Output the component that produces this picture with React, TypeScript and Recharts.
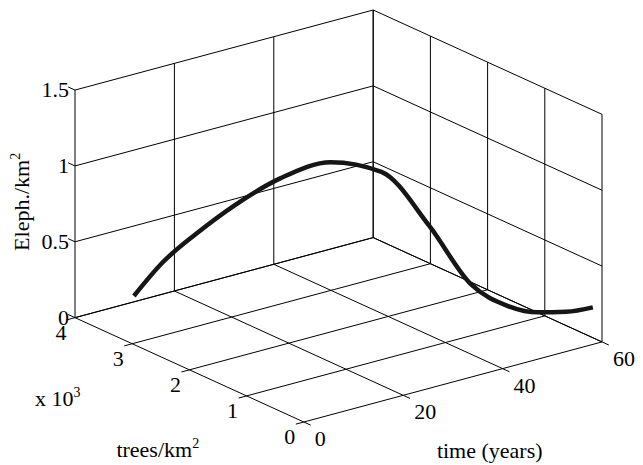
import React from "react";
import {
  ComposedChart,
  Line,
  ReferenceDot,
  ReferenceLine,
  XAxis,
  YAxis,
} from "recharts";

// simulated trajectory
const years = [0, 5, 10, 15, 20, 25, 30, 35, 40, 45, 50, 55, 60];
const trees = [2.97, 2.9, 2.75, 2.5, 2.15, 1.7, 1.25, 0.85, 0.55, 0.35, 0.25, 0.19, 0.16]; // x 10^3 per km2
const elephants = [0.32, 0.51, 0.68, 0.87, 1.06, 1.2, 1.17, 0.84, 0.46, 0.31, 0.24, 0.21, 0.2];

// axis ticks
const timeTicks = [0, 20, 40, 60];
const treeTicks = [0, 1, 2, 3, 4];
const elephTicks = [0, 0.5, 1, 1.5];
const elephTickLabels = ["0", "0.5", "1", "1.5"];

const T_MAX = 60;
const TREE_MAX = 4;
const Z_MAX = 1.5;

// view roughly like matlab's plot3 default (az -37.5), a bit flatter
const AZ = (37.5 * Math.PI) / 180;
const EL = (20.5 * Math.PI) / 180;
const Z_ASPECT = 0.647;

function project(t: number, tr: number, z: number) {
  const X = t / T_MAX;
  const Y = tr / TREE_MAX;
  const Z = z / Z_MAX;
  return {
    u: X * Math.cos(AZ) - Y * Math.sin(AZ),
    v: (X * Math.sin(AZ) + Y * Math.cos(AZ)) * Math.sin(EL) + Z * Z_ASPECT * Math.cos(EL),
  };
}

type P3 = [number, number, number];

function buildSegments(): [P3, P3][] {
  const segs: [P3, P3][] = [];
  // floor
  timeTicks.forEach((t) => segs.push([[t, 0, 0], [t, TREE_MAX, 0]]));
  treeTicks.forEach((tr) => segs.push([[0, tr, 0], [T_MAX, tr, 0]]));
  // back wall
  timeTicks.forEach((t) => segs.push([[t, TREE_MAX, 0], [t, TREE_MAX, Z_MAX]]));
  elephTicks.forEach((z) => segs.push([[0, TREE_MAX, z], [T_MAX, TREE_MAX, z]]));
  // right wall
  treeTicks.forEach((tr) => segs.push([[T_MAX, tr, 0], [T_MAX, tr, Z_MAX]]));
  elephTicks.forEach((z) => segs.push([[T_MAX, 0, z], [T_MAX, TREE_MAX, z]]));
  // tick marks
  elephTicks.forEach((z) => segs.push([[0, TREE_MAX, z], [0, TREE_MAX + 0.12, z]]));
  treeTicks.forEach((tr) => segs.push([[0, tr, 0], [-1.6, tr, 0]]));
  timeTicks.forEach((t) => segs.push([[t, 0, 0], [t, -0.12, 0]]));
  return segs;
}

const FONT = "'Liberation Serif', 'Times New Roman', serif";

function textShape(
  content: React.ReactNode,
  dx: number,
  dy: number,
  anchor: "start" | "middle" | "end",
  rotate = false
) {
  return (p: any) => {
    const x = p.cx + dx;
    const y = p.cy + dy;
    return (
      <text
        x={x}
        y={y}
        textAnchor={anchor}
        style={{ fontFamily: FONT, fontSize: 22 }}
        fill="#000"
        transform={rotate ? `rotate(-90, ${x}, ${y})` : undefined}
      >
        {content}
      </text>
    );
  };
}

const sup = (s: string) => (
  <tspan dy={-9} style={{ fontSize: 14 }}>
    {s}
  </tspan>
);

export default function App() {
  const curve = years.map((t, i) => project(t, trees[i], elephants[i]));
  const segs = buildSegments();
  const uMin = project(0, TREE_MAX, 0).u;
  const uMax = project(T_MAX, 0, 0).u;
  const vMax = project(T_MAX, TREE_MAX, Z_MAX).v;

  const dot = (t: number, tr: number, z: number, key: string, shape: any) => {
    const p = project(t, tr, z);
    return (
      <ReferenceDot
        key={key}
        x={p.u}
        y={p.v}
        r={0}
        ifOverflow="visible"
        shape={shape}
      />
    );
  };

  return (
    <div style={{ position: "absolute", left: 0, top: 0, width: 643, height: 465, background: "#fff" }}>
      <ComposedChart width={643} height={465} margin={{ top: 10, right: 41, bottom: 43, left: 75 }}>
        <XAxis type="number" dataKey="u" domain={[uMin, uMax]} hide />
        <YAxis type="number" dataKey="v" domain={[0, vMax]} hide />
        {segs.map(([a, b], i) => {
          const p = project(...a);
          const q = project(...b);
          return (
            <ReferenceLine
              key={`s${i}`}
              segment={[
                { x: p.u, y: p.v },
                { x: q.u, y: q.v },
              ]}
              stroke="#000"
              strokeWidth={1}
              ifOverflow="visible"
            />
          );
        })}
        <Line
          data={curve}
          dataKey="v"
          type="monotone"
          stroke="#161616"
          strokeWidth={4.5}
          dot={false}
          activeDot={false}
          isAnimationActive={false}
        />
        {elephTicks.map((z, i) =>
          dot(0, TREE_MAX, z, `z${i}`, textShape(elephTickLabels[i], -6, 7, "end"))
        )}
        {treeTicks.map((tr) => dot(0, tr, 0, `tr${tr}`, textShape(String(tr), -14, 22, "middle")))}
        {timeTicks.map((t) => dot(t, 0, 0, `t${t}`, textShape(String(t), 11, 24, "start")))}
        {dot(30, 0, 0, "xlab", textShape("time (years)", -16, 76, "start"))}
        {dot(0, 2, 0, "ylab", textShape(<>trees/km{sup("2")}</>, -73, 87, "start"))}
        {dot(0, TREE_MAX, 0, "yexp", textShape(<>x 10{sup("3")}</>, -40, 88, "start"))}
        {dot(0, TREE_MAX, 0.75, "zlab", textShape(<>Eleph./km{sup("2")}</>, -46, -2, "middle", true))}
      </ComposedChart>
    </div>
  );
}
